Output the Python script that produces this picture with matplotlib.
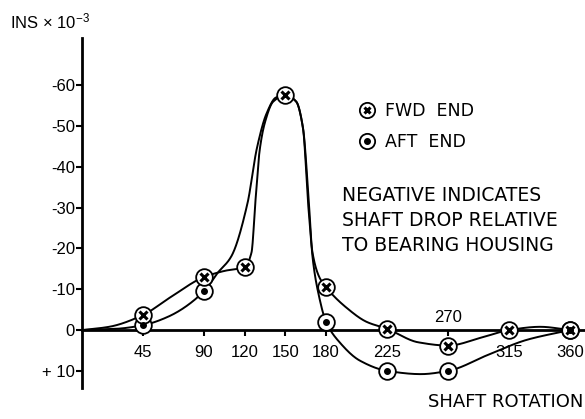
import numpy as np
import matplotlib
matplotlib.use("Agg")
from matplotlib import pyplot as plt
from matplotlib.lines import Line2D
from matplotlib.legend_handler import HandlerTuple

plt.rcParams["font.family"] = ["Liberation Sans", "DejaVu Sans"]
plt.rcParams["mathtext.fontset"] = "custom"
plt.rcParams["mathtext.rm"] = "Liberation Sans"
plt.rcParams["mathtext.default"] = "regular"

# measured points (markers), shaft rotation in degrees, INS x 10^-3 (negative = drop)
fwd_deg = [45, 90, 120, 150, 180, 225, 270, 315, 360]
fwd_val = [-3.7, -13.0, -15.5, -57.6, -10.5, -0.3, 3.8, 0.0, 0.0]
aft_deg = [45, 90, 180, 225, 270, 360]
aft_val = [-1.2, -9.5, -2.0, 10.0, 10.0, 0.0]

# hand-drawn curve
fwd_curve_deg = [0, 20, 45, 65, 90, 105, 120, 125, 128, 131, 135, 141, 150,
                 158, 163, 167, 170, 175, 180, 195, 210, 225, 248, 270, 295,
                 315, 338, 360]
fwd_curve_val = [0, -0.8, -3.7, -8.0, -13.0, -14.5, -15.5, -19, -32, -44, -51,
                 -56, -57.6, -56, -49.5, -30, -19, -13, -10.5, -5.5, -2.0, -0.3,
                 3.0, 3.8, 1.8, 0.0, -0.8, 0.0]
aft_curve_deg = [0, 25, 45, 63, 90, 100, 110, 122, 129, 136, 143, 150, 158,
                 163, 167, 170, 175, 180, 190, 205, 225, 250, 270, 300, 328,
                 360]
aft_curve_val = [0, -0.3, -1.2, -3.2, -9.5, -14, -18, -31, -44.6, -53, -57,
                 -57.6, -56, -49.5, -33, -18, -8, -2.0, 3.0, 7.5, 10.0, 10.8,
                 10.0, 6.0, 2.4, 0.0]

xtick_pos = [45, 90, 120, 150, 180, 225, 270, 315, 360]
xtick_lab = ["45", "90", "120", "150", "180", "225", "", "315", "360"]
ytick_pos = [-60, -50, -40, -30, -20, -10, 0, 10]
ytick_lab = ["-60", "-50", "-40", "-30", "-20", "-10", "0", "+ 10"]


def pchip(x, y, xs):
    x = np.asarray(x, float)
    y = np.asarray(y, float)
    h = np.diff(x)
    d = np.diff(y) / h
    m = np.zeros_like(y)
    for k in range(1, len(x) - 1):
        if d[k - 1] * d[k] > 0:
            w1 = 2 * h[k] + h[k - 1]
            w2 = h[k] + 2 * h[k - 1]
            m[k] = (w1 + w2) / (w1 / d[k - 1] + w2 / d[k])
    m[0] = d[0]
    m[-1] = d[-1]
    i = np.clip(np.searchsorted(x, xs) - 1, 0, len(h) - 1)
    t = (xs - x[i]) / h[i]
    h00 = 2 * t**3 - 3 * t**2 + 1
    h10 = t**3 - 2 * t**2 + t
    h01 = -2 * t**3 + 3 * t**2
    h11 = t**3 - t**2
    return h00 * y[i] + h10 * h[i] * m[i] + h01 * y[i + 1] + h11 * h[i] * m[i + 1]


fig = plt.figure(figsize=(5.85, 4.19), dpi=100)
ax = fig.add_axes([0.1402, 0.074, 0.8598, 0.8353])

xs = np.linspace(0, 360, 1500)
ax.plot(xs, pchip(fwd_curve_deg, fwd_curve_val, xs), color="black", lw=1.4, zorder=2)
ax.plot(xs, pchip(aft_curve_deg, aft_curve_val, xs), color="black", lw=1.4, zorder=2)

ms = 12
ax.plot(aft_deg, aft_val, "o", ms=ms, mfc="white", mec="black", mew=1.3, zorder=4)
ax.plot(aft_deg, aft_val, "o", ms=4, color="black", zorder=5)
ax.plot(fwd_deg, fwd_val, "o", ms=ms, mfc="white", mec="black", mew=1.3, zorder=4)
ax.plot(fwd_deg, fwd_val, "x", ms=6, color="black", mew=2.2, zorder=5)

ax.set_xlim(0, 371)
ax.set_ylim(14.2, -71.6)

for s in ["top", "right"]:
    ax.spines[s].set_visible(False)
ax.spines["bottom"].set_position(("data", 0))
ax.spines["left"].set_linewidth(2.0)
ax.spines["bottom"].set_linewidth(2.0)
ax.spines["bottom"].set_zorder(3)

ax.set_xticks(xtick_pos, xtick_lab)
ax.set_yticks(ytick_pos, ytick_lab)
ax.tick_params(axis="x", direction="out", length=4, width=1.5, pad=7, labelsize=12)
ax.tick_params(axis="y", direction="out", length=4, width=1.5, pad=1, labelsize=12)
for lab in ax.get_xticklabels():
    if lab.get_text() == "315":
        lab.set_bbox(dict(fc="white", ec="none", pad=1))
ax.annotate("270", xy=(270, 0), xytext=(0, 4), textcoords="offset points",
            ha="center", va="bottom", fontsize=12)

h_fwd = (Line2D([], [], ls="none", marker="o", ms=11, mfc="white", mec="black", mew=1.3),
         Line2D([], [], ls="none", marker="x", ms=5, color="black", mew=2.2))
h_aft = (Line2D([], [], ls="none", marker="o", ms=11, mfc="white", mec="black", mew=1.3),
         Line2D([], [], ls="none", marker="o", ms=4, color="black"))
fig.legend([h_fwd, h_aft], ["FWD  END", "AFT  END"],
           handler_map={tuple: HandlerTuple(ndivide=1)},
           loc="upper left", bbox_to_anchor=(350 / 585, 1 - 93 / 419),
           frameon=False, borderpad=0, handlelength=1.0, handletextpad=0.5,
           labelspacing=0.75, prop={"family": "DejaVu Sans", "size": 12.5})

note = ["NEGATIVE INDICATES", "SHAFT DROP RELATIVE", "TO BEARING HOUSING"]
for k, line in enumerate(note):
    fig.text(342 / 585, 1 - (195 + 25 * k) / 419, line, ha="left", va="center",
             family="DejaVu Sans", fontsize=13.5)

fig.text(10 / 585, 1 - 28 / 419, r"INS $\times$ 10$^{-3}$", ha="left",
         va="baseline", fontsize=12)
fig.text(583 / 585, 1 - 402 / 419, "SHAFT ROTATION", ha="right", va="center",
         family="DejaVu Sans", fontsize=13)

fig.savefig("out.png", dpi=100)
